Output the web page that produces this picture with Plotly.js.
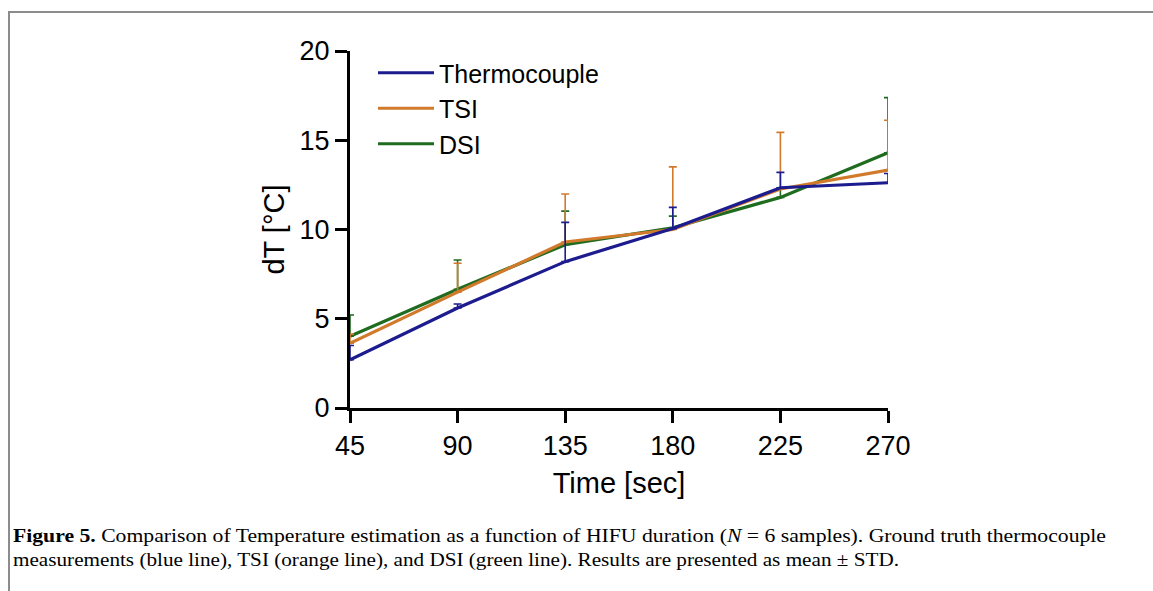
<!DOCTYPE html>
<html>
<head>
<meta charset="utf-8">
<script src="https://cdn.plot.ly/plotly-3.0.1.min.js"></script>
<style>html,body{margin:0;padding:0;background:#fff;}#chart{width:1153px;height:591px;}</style>
</head>
<body>
<div id="chart"></div>
<script>
var timeSec = [45, 90, 135, 180, 225, 270];
var thermocouple = [2.70, 5.60, 8.20, 10.05, 12.34, 12.62];
var thermocoupleStd = [0.80, 0.23, 2.20, 1.19, 0.86, 0.52];
var tsi = [3.63, 6.49, 9.30, 10.00, 12.27, 13.33];
var tsiStd = [0.51, 1.62, 2.69, 3.51, 3.17, 2.79];
var dsi = [4.02, 6.65, 9.15, 10.10, 11.80, 14.30];
var dsiStd = [1.19, 1.64, 1.88, 0.65, 0.50, 3.09];
var xTicks = [45, 90, 135, 180, 225, 270];
var yTicks = [0, 5, 10, 15, 20];

var BLUE = '#1c1c8f', ORANGE = '#d17a2c', GREEN = '#1f6b1f';
function zeros(n){ var a=[]; for(var i=0;i<n;i++) a.push(0); return a; }
function mk(name, y, err, color, rank){
  return {
    x: timeSec, y: y, name: name, type: 'scatter', mode: 'lines',
    legendrank: rank, cliponaxis: false,
    line: {color: color, width: 3.2},
    error_y: {type: 'data', symmetric: false, array: err, arrayminus: zeros(err.length),
              color: color, thickness: 1.6, width: 4, visible: true}
  };
}
var traces = [
  mk('DSI', dsi, dsiStd, GREEN, 3),
  mk('TSI', tsi, tsiStd, ORANGE, 2),
  mk('Thermocouple', thermocouple, thermocoupleStd, BLUE, 1)
];

var L = 350, R = 888, T = 51, B = 408;
function px(x){ return (x - L) / (R - L); }
function py(y){ return (B - y) / (B - T); }

var layout = {
  width: 1153, height: 591,
  margin: {l: L, r: 1153 - R, t: T, b: 591 - B, pad: 0},
  paper_bgcolor: '#fff', plot_bgcolor: 'rgba(0,0,0,0)',
  font: {family: 'Liberation Sans, Arial, sans-serif', color: '#000'},
  showlegend: true,
  legend: {x: px(373), y: py(50), xanchor: 'left', yanchor: 'top',
           traceorder: 'normal', itemwidth: 56,
           font: {size: 25, family: 'Liberation Sans, Arial, sans-serif', color: '#000'},
           bgcolor: 'rgba(0,0,0,0)'},
  xaxis: {range: [45, 270], tickvals: xTicks, ticktext: xTicks.map(String),
          showline: true, linewidth: 3, linecolor: '#000', ticks: 'outside', ticklen: 12,
          tickwidth: 3, tickcolor: '#000', showgrid: false, zeroline: false,
          tickfont: {size: 27}, fixedrange: true,
          title: {text: 'Time [sec]', font: {size: 29}, standoff: 13}},
  yaxis: {range: [0, 20], tickvals: yTicks, ticktext: yTicks.map(String),
          showline: true, linewidth: 3, linecolor: '#000', ticks: 'outside', ticklen: 12,
          tickwidth: 3, tickcolor: '#000', showgrid: false, zeroline: false,
          tickfont: {size: 27}, fixedrange: true,
          title: {text: 'dT [°C]', font: {size: 29}, standoff: 7}},
  shapes: [
    {type: 'rect', xref: 'paper', yref: 'paper', x0: px(9), x1: px(1170), y0: py(12), y1: py(610),
     line: {color: '#8c8c8c', width: 2}, fillcolor: 'rgba(0,0,0,0)', layer: 'below'}
  ],
  annotations: [
    {xref: 'paper', yref: 'paper', x: px(11), y: py(536), xanchor: 'left', yanchor: 'middle',
     showarrow: false, align: 'left',
     font: {family: 'Liberation Serif, Times New Roman, serif', size: 19, color: '#000'},
     text: '<b>Figure 5.</b> Comparison of Temperature estimation as a function of HIFU duration (<i>N</i> = 6 samples). Ground truth thermocouple'},
    {xref: 'paper', yref: 'paper', x: px(11), y: py(560), xanchor: 'left', yanchor: 'middle',
     showarrow: false, align: 'left',
     font: {family: 'Liberation Serif, Times New Roman, serif', size: 19, color: '#000'},
     text: 'measurements (blue line), TSI (orange line), and DSI (green line). Results are presented as mean ± STD.'}
  ]
};
Plotly.newPlot('chart', traces, layout, {staticPlot: true, displayModeBar: false}).then(function(gd){
  // fit caption lines to the reference widths (condensed serif)
  var widths = [1093, 886];
  var texts = gd.querySelectorAll('.annotation-text');
  texts.forEach(function(t, i){
    if (widths[i]) {
      t.setAttribute('textLength', widths[i]);
      t.setAttribute('lengthAdjust', 'spacingAndGlyphs');
    }
  });
});
</script>
</body>
</html>
